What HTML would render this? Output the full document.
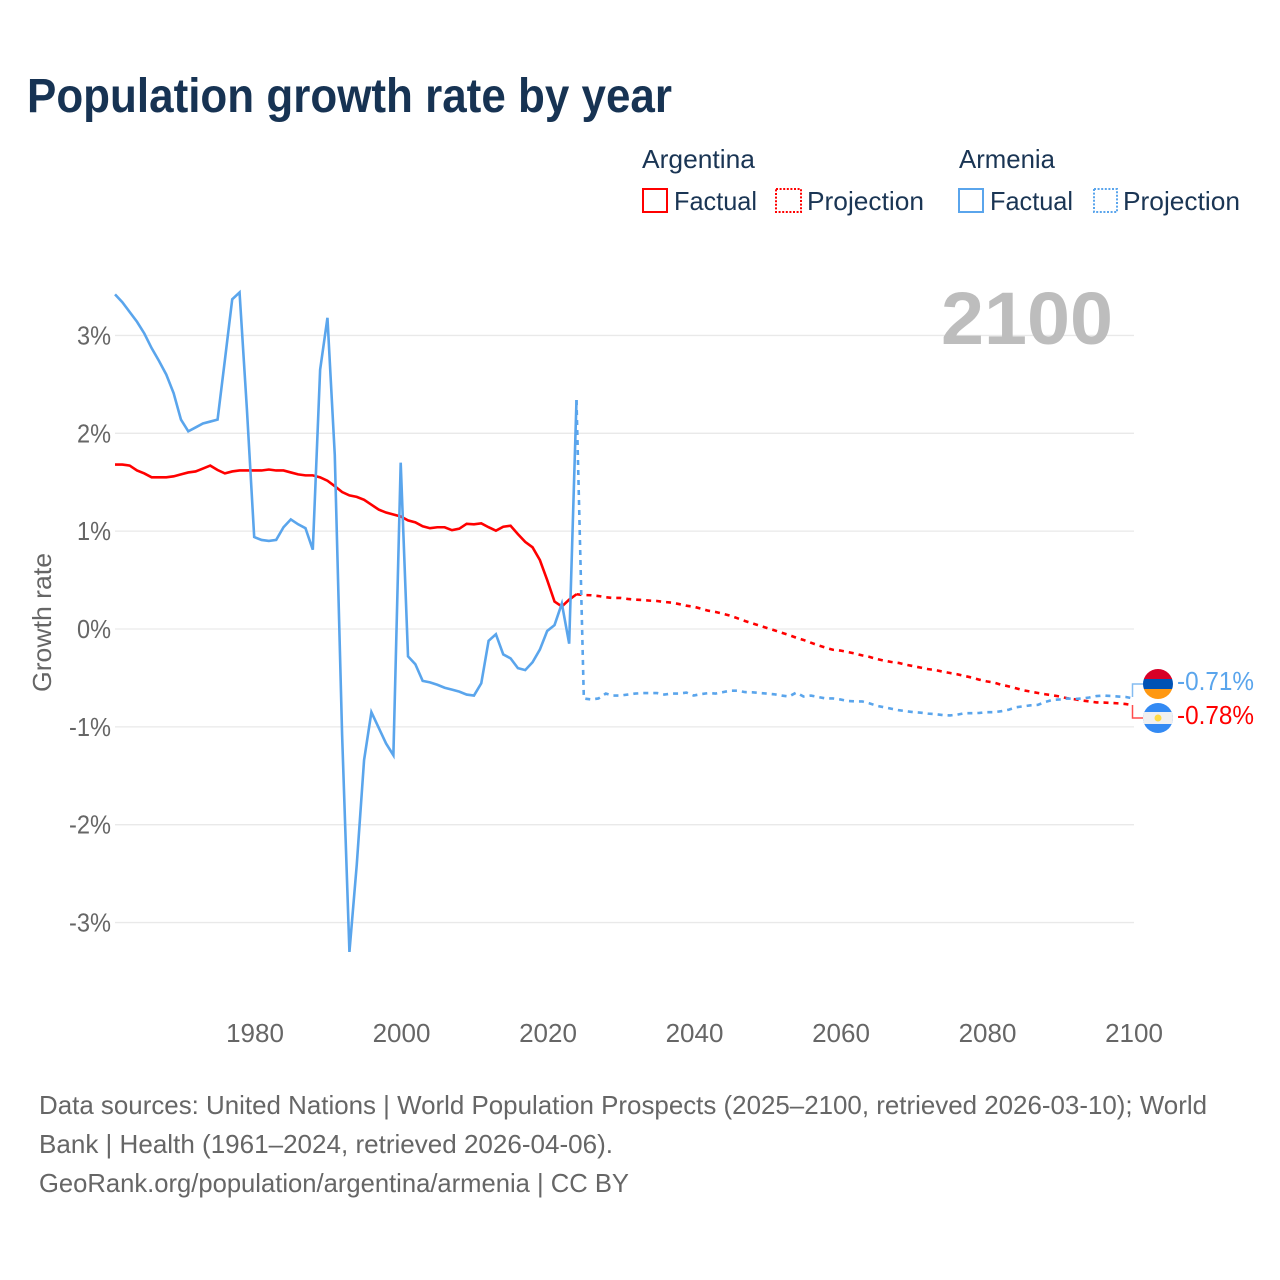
<!DOCTYPE html>
<html lang="en">
<head>
<meta charset="utf-8">
<title>Population growth rate by year</title>
<style>
html,body{margin:0;padding:0;background:#fff;width:1280px;height:1280px;overflow:hidden}
svg{display:block}
text{font-family:"Liberation Sans",sans-serif}
</style>
</head>
<body>
<svg id="chart" xmlns="http://www.w3.org/2000/svg" width="1280" height="1280" viewBox="0 0 1280 1280">
  <rect width="1280" height="1280" fill="#fff"/>
  <text x="27" y="112" font-size="48" font-weight="bold" fill="#173353" textLength="645" lengthAdjust="spacingAndGlyphs">Population growth rate by year</text>

  <g font-size="26" fill="#1a3554">
    <text x="642" y="168" textLength="113" lengthAdjust="spacingAndGlyphs">Argentina</text>
    <text x="959" y="168" textLength="96" lengthAdjust="spacingAndGlyphs">Armenia</text>
    <rect x="643" y="189" width="24" height="23" fill="none" stroke="#ff0000" stroke-width="2"/>
    <text x="674" y="210" textLength="83" lengthAdjust="spacingAndGlyphs">Factual</text>
    <rect x="776" y="189" width="25" height="23" fill="none" stroke="#ff0000" stroke-width="2" stroke-dasharray="2 1.6"/>
    <text x="807" y="210" textLength="117" lengthAdjust="spacingAndGlyphs">Projection</text>
    <rect x="959" y="189" width="24" height="23" fill="none" stroke="#5aa5ec" stroke-width="2"/>
    <text x="990" y="210" textLength="83" lengthAdjust="spacingAndGlyphs">Factual</text>
    <rect x="1094" y="189" width="23" height="23" fill="none" stroke="#5aa5ec" stroke-width="2" stroke-dasharray="2 1.6"/>
    <text x="1123" y="210" textLength="117" lengthAdjust="spacingAndGlyphs">Projection</text>
  </g>

  <g id="grid"></g>
  <g id="yticks" font-size="26" fill="#666"></g>
  <g id="xticks" font-size="26" fill="#666"></g>
  <text transform="translate(51,692) rotate(-90)" font-size="26" fill="#666" textLength="139" lengthAdjust="spacingAndGlyphs">Growth rate</text>

  <text x="941" y="344" font-size="74" font-weight="bold" fill="#bdbdbd" textLength="172" lengthAdjust="spacingAndGlyphs">2100</text>

  <g id="series"></g>

  <path d="M1132.5 697V684H1143" fill="none" stroke="#5aa5ec" stroke-opacity=".75" stroke-width="1.5"/>
  <path d="M1132.5 705V718H1143" fill="none" stroke="#ff0000" stroke-opacity=".7" stroke-width="1.5"/>

  <defs>
    <clipPath id="flag-top"><circle cx="1158" cy="684" r="15"/></clipPath>
    <clipPath id="flag-bottom"><circle cx="1158" cy="718" r="15"/></clipPath>
  </defs>
  <g clip-path="url(#flag-top)">
    <rect x="1143" y="669" width="30" height="10" fill="#d80027"/>
    <rect x="1143" y="679" width="30" height="10" fill="#0052b4"/>
    <rect x="1143" y="689" width="30" height="10" fill="#ff9811"/>
  </g>
  <g clip-path="url(#flag-bottom)">
    <rect x="1143" y="703" width="30" height="30" fill="#338af3"/>
    <rect x="1143" y="712" width="30" height="12" fill="#f0f0f0"/>
    <circle cx="1158" cy="718" r="3.5" fill="#ffda44"/>
  </g>

  <text id="end-armenia" x="1177" y="690" font-size="26" fill="#5aa5ec" textLength="77" lengthAdjust="spacingAndGlyphs"></text>
  <text id="end-argentina" x="1177" y="724" font-size="26" fill="#ff0000" textLength="77" lengthAdjust="spacingAndGlyphs"></text>

  <g font-size="26" fill="#666">
    <text x="39" y="1114" textLength="1168" lengthAdjust="spacingAndGlyphs">Data sources: United Nations | World Population Prospects (2025–2100, retrieved 2026-03-10); World</text>
    <text x="39" y="1153" textLength="574" lengthAdjust="spacingAndGlyphs">Bank | Health (1961–2024, retrieved 2026-04-06).</text>
    <text x="39" y="1192" textLength="590" lengthAdjust="spacingAndGlyphs">GeoRank.org/population/argentina/armenia | CC BY</text>
  </g>
</svg>

<script>
const factualStartYear = 1961;
const projectionStartYear = 2024;

const argentinaFactual = [
  1.68,1.68,1.67,1.62,1.59,1.55,1.55,1.55,1.56,1.58,
  1.60,1.61,1.64,1.67,1.625,1.59,1.61,1.62,1.62,1.62,
  1.62,1.63,1.62,1.62,1.60,1.58,1.57,1.57,1.55,1.515,
  1.46,1.40,1.365,1.35,1.32,1.27,1.22,1.19,1.17,1.15,
  1.11,1.09,1.05,1.03,1.04,1.04,1.01,1.025,1.075,1.07,
  1.08,1.04,1.005,1.045,1.055,0.97,0.89,0.835,0.705,0.50,
  0.28,0.23,0.30,0.355
];
const armeniaFactual = [
  3.42,3.34,3.24,3.14,3.02,2.87,2.74,2.60,2.41,2.14,
  2.02,2.06,2.10,2.12,2.14,2.75,3.37,3.44,2.25,0.94,
  0.91,0.90,0.91,1.04,1.12,1.07,1.03,0.81,2.65,3.18,
  1.78,-1.08,-3.30,-2.41,-1.34,-0.85,-1.01,-1.17,-1.29,1.70,
  -0.28,-0.36,-0.53,-0.545,-0.57,-0.60,-0.62,-0.64,-0.67,-0.68,
  -0.555,-0.12,-0.054,-0.26,-0.30,-0.40,-0.42,-0.34,-0.21,-0.02,
  0.04,0.26,-0.15,2.34
];
const argentinaProjection = [
  0.355,0.347,0.345,0.337,0.324,0.317,0.317,0.307,0.30,0.296,0.29,0.286,
  0.276,0.27,0.255,0.238,0.228,0.208,0.187,0.174,0.156,0.136,
  0.109,0.082,0.058,0.034,0.01,-0.013,-0.038,-0.061,-0.089,-0.112,
  -0.14,-0.167,-0.191,-0.212,-0.22,-0.235,-0.25,-0.27,-0.285,-0.307,
  -0.324,-0.337,-0.347,-0.365,-0.38,-0.395,-0.41,-0.42,-0.436,-0.45,
  -0.463,-0.48,-0.497,-0.518,-0.535,-0.548,-0.57,-0.586,-0.606,-0.626,
  -0.64,-0.654,-0.667,-0.678,-0.69,-0.708,-0.718,-0.73,-0.74,-0.75,
  -0.752,-0.756,-0.76,-0.767,-0.78
];
const armeniaProjection = [
  2.34,-0.71,-0.72,-0.71,-0.66,-0.68,-0.68,-0.67,-0.66,-0.655,-0.655,-0.655,
  -0.67,-0.66,-0.66,-0.65,-0.68,-0.665,-0.655,-0.66,-0.645,-0.63,
  -0.63,-0.645,-0.647,-0.654,-0.66,-0.667,-0.68,-0.69,-0.65,-0.69,
  -0.68,-0.695,-0.71,-0.71,-0.72,-0.735,-0.74,-0.74,-0.76,-0.785,
  -0.80,-0.815,-0.83,-0.84,-0.85,-0.855,-0.865,-0.87,-0.88,-0.883,
  -0.875,-0.86,-0.86,-0.858,-0.85,-0.85,-0.84,-0.825,-0.80,-0.79,
  -0.78,-0.775,-0.745,-0.725,-0.72,-0.71,-0.715,-0.71,-0.70,-0.685,
  -0.68,-0.685,-0.69,-0.695,-0.71
];
const xTickYears = [1980,2000,2020,2040,2060,2080,2100];
const yTickValues = [3,2,1,0,-1,-2,-3];
const yTickLabels = ['3%','2%','1%','0%','-1%','-2%','-3%'];

const SVGNS = 'http://www.w3.org/2000/svg';
function xScale(year){ return 254.2 + (year - 1980) * 7.325; }
function yScale(value){ return 629 - value * 97.85; }
function linePath(values, startYear){
  return values.map(function(v,i){
    return (i ? 'L' : 'M') + xScale(startYear + i).toFixed(2) + ' ' + yScale(v).toFixed(2);
  }).join('');
}

const grid = document.getElementById('grid');
const yticks = document.getElementById('yticks');
yTickValues.forEach(function(v,i){
  const ln = document.createElementNS(SVGNS,'line');
  
  
  ln.setAttribute('x1', 115);
  ln.setAttribute('x2', 1134);
  ln.setAttribute('y1', yScale(v));
  ln.setAttribute('y2', yScale(v));
  ln.setAttribute('stroke', '#e9e9e9');
  ln.setAttribute('stroke-width', '1.3');
  grid.appendChild(ln);
  const t = document.createElementNS(SVGNS,'text');
  
  
  t.setAttribute('x', 111);
  t.setAttribute('y', yScale(v) + 9);
  t.setAttribute('text-anchor', 'end');
  t.setAttribute('textLength', yTickLabels[i].length === 3 ? 42 : 34);
  t.setAttribute('lengthAdjust', 'spacingAndGlyphs');
  t.textContent = yTickLabels[i];
  yticks.appendChild(t);
});

const xticks = document.getElementById('xticks');
xTickYears.forEach(function(year){
  const t = document.createElementNS(SVGNS,'text');
  
  
  t.setAttribute('x', xScale(year) + 0.8);
  t.setAttribute('y', 1042);
  t.setAttribute('text-anchor', 'middle');
  t.textContent = year;
  xticks.appendChild(t);
});

const series = document.getElementById('series');
function addLine(name, values, startYear, color, dashed){
  const p = document.createElementNS(SVGNS,'path');
  
  
  p.setAttribute('d', linePath(values, startYear));
  p.setAttribute('fill', 'none');
  p.setAttribute('stroke', color);
  p.setAttribute('stroke-width', '2.6');
  p.setAttribute('stroke-linejoin', 'miter');
  if (dashed) p.setAttribute('stroke-dasharray', '5 5');
  series.appendChild(p);
}
addLine('argentina-projection-line', argentinaProjection, projectionStartYear, '#ff0000', true);
addLine('argentina-factual-line', argentinaFactual, factualStartYear, '#ff0000', false);
addLine('armenia-projection-line', armeniaProjection, projectionStartYear, '#5aa5ec', true);
addLine('armenia-factual-line', armeniaFactual, factualStartYear, '#5aa5ec', false);

document.getElementById('end-armenia').textContent = armeniaProjection[armeniaProjection.length-1].toFixed(2) + '%';
document.getElementById('end-argentina').textContent = argentinaProjection[argentinaProjection.length-1].toFixed(2) + '%';
</script>
</body>
</html>
